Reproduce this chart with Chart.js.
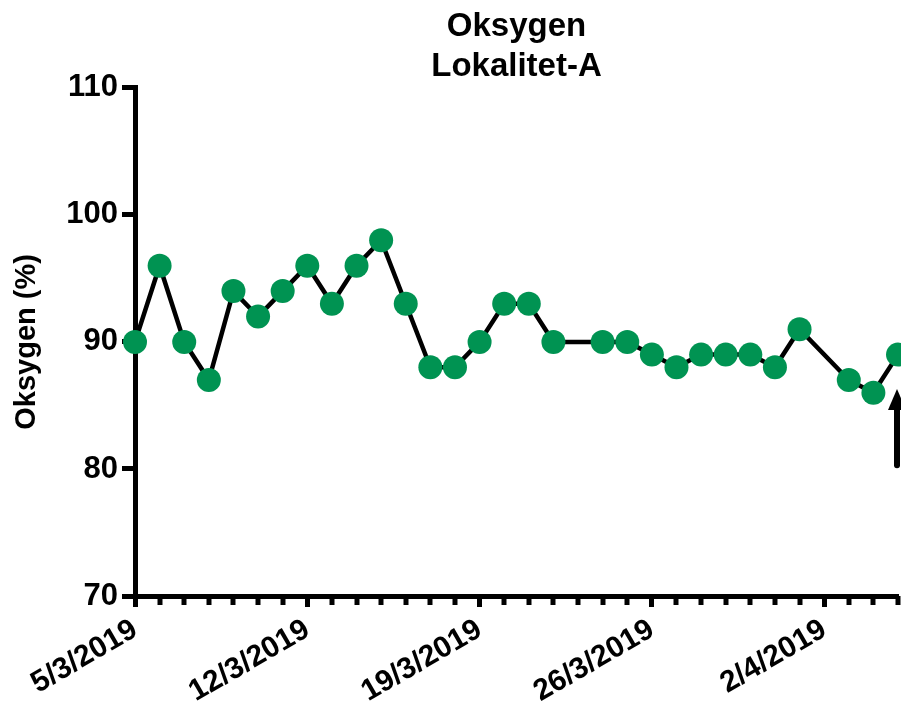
<!DOCTYPE html>
<html>
<head>
<meta charset="utf-8">
<script src="https://cdn.jsdelivr.net/npm/chart.js@4.4.1/dist/chart.umd.min.js"></script>
<style>
  html, body { margin: 0; padding: 0; background: #fff; }
  #wrap { width: 901px; height: 706px; }
</style>
</head>
<body>
<div id="wrap"><canvas id="chart"></canvas></div>
<script>
// Målinger (dato, oksygen %)
const datoer = ['5/3/2019','6/3/2019','7/3/2019','8/3/2019','9/3/2019','10/3/2019','11/3/2019',
  '12/3/2019','13/3/2019','14/3/2019','15/3/2019','16/3/2019','17/3/2019','18/3/2019',
  '19/3/2019','20/3/2019','21/3/2019','22/3/2019','24/3/2019','25/3/2019','26/3/2019',
  '27/3/2019','28/3/2019','29/3/2019','30/3/2019','31/3/2019','1/4/2019','3/4/2019',
  '4/4/2019','5/4/2019'];
const oksygen = [90, 96, 90, 87, 94, 92, 94,
  96, 93, 96, 98, 93, 88, 88,
  90, 93, 93, 90, 90, 90, 89,
  88, 89, 89, 89, 88, 91, 87,
  86, 89];

const startDato = '5/3/2019';
const sluttDato = '5/4/2019';
const tickDatoer = ['5/3/2019', '12/3/2019', '19/3/2019', '26/3/2019', '2/4/2019'];
const yTicks = [70, 80, 90, 100, 110];

// pil (markering) ved siste dato
const pilDato = '5/4/2019';
const pilFra = 80.3;
const pilTil = 86.3;

function dag(s) {
  const [d, m, y] = s.split('/').map(Number);
  return Math.round(Date.UTC(y, m - 1, d) / 86400000);
}
const d0 = dag(startDato);
const tilX = s => dag(s) - d0;

const punkter = datoer.map((s, i) => ({ x: tilX(s), y: oksygen[i] }));
const tickVerdier = tickDatoer.map(tilX);

const font = 'Liberation Sans, Arial, Helvetica, sans-serif';

// små ticks for hver dag + pil
const ekstra = {
  id: 'ekstra',
  afterDraw(chart) {
    const ctx = chart.ctx;
    const x = chart.scales.x, y = chart.scales.y;
    ctx.save();
    ctx.strokeStyle = '#000';
    ctx.lineWidth = 5;
    const bunn = y.getPixelForValue(70);
    for (let i = 0; i <= tilX(sluttDato); i++) {
      if (tickVerdier.includes(i)) continue;
      const px = Math.round(x.getPixelForValue(i));
      ctx.beginPath();
      ctx.moveTo(px, bunn);
      ctx.lineTo(px, bunn + 9);
      ctx.stroke();
    }
    // pil
    const ax = x.getPixelForValue(tilX(pilDato)) - 1;
    const yb = y.getPixelForValue(pilFra);
    const yt = y.getPixelForValue(pilTil);
    ctx.lineWidth = 6;
    ctx.lineCap = 'round';
    ctx.beginPath();
    ctx.moveTo(ax, yb);
    ctx.lineTo(ax, yt + 14);
    ctx.stroke();
    ctx.fillStyle = '#000';
    ctx.beginPath();
    ctx.moveTo(ax, yt);
    ctx.lineTo(ax - 9, yt + 21);
    ctx.lineTo(ax + 9, yt + 21);
    ctx.closePath();
    ctx.fill();
    ctx.restore();
  }
};

new Chart(document.getElementById('chart'), {
  type: 'line',
  data: {
    datasets: [{
      data: punkter,
      borderColor: '#000',
      borderWidth: 4.5,
      pointRadius: 12,
      pointHoverRadius: 12,
      pointBackgroundColor: '#009352',
      pointBorderWidth: 0,
      tension: 0,
      clip: false
    }]
  },
  options: {
    responsive: true,
    maintainAspectRatio: false,
    animation: false,
    layout: { autoPadding: false, padding: { right: 3 } },
    plugins: {
      legend: { display: false },
      tooltip: { enabled: false },
      title: {
        display: true,
        fullSize: false,
        text: ['Oksygen', 'Lokalitet-A'],
        color: '#000',
        font: { family: font, size: 33, weight: 'bold', lineHeight: 1.24 },
        padding: { top: 6, bottom: 0 }
      }
    },
    scales: {
      x: {
        type: 'linear',
        min: 0,
        max: tilX(sluttDato),
        afterBuildTicks: s => { s.ticks = tickVerdier.map(v => ({ value: v })); },
        afterFit: s => { s.height = 110; },
        border: { color: '#000', width: 5 },
        grid: { drawOnChartArea: false, tickLength: 11, tickWidth: 5, tickColor: '#000' },
        ticks: {
          autoSkip: false,
          minRotation: 30,
          maxRotation: 30,
          padding: 5,
          color: '#000',
          font: { family: font, size: 30, weight: 'bold' },
          callback: v => tickDatoer[tickVerdier.indexOf(v)]
        }
      },
      y: {
        min: 70,
        max: 110,
        afterBuildTicks: s => { s.ticks = yTicks.map(v => ({ value: v })); },
        afterFit: s => { s.width = 135; },
        border: { color: '#000', width: 5 },
        grid: { drawOnChartArea: false, tickLength: 13, tickWidth: 5, tickColor: '#000' },
        ticks: {
          padding: 4,
          color: '#000',
          font: { family: font, size: 31, weight: 'bold' }
        },
        title: {
          display: true,
          text: 'Oksygen (%)',
          color: '#000',
          font: { family: font, size: 29, weight: 'bold' },
          padding: { top: 10, bottom: 0 }
        }
      }
    }
  },
  plugins: [ekstra]
});
</script>
</body>
</html>
